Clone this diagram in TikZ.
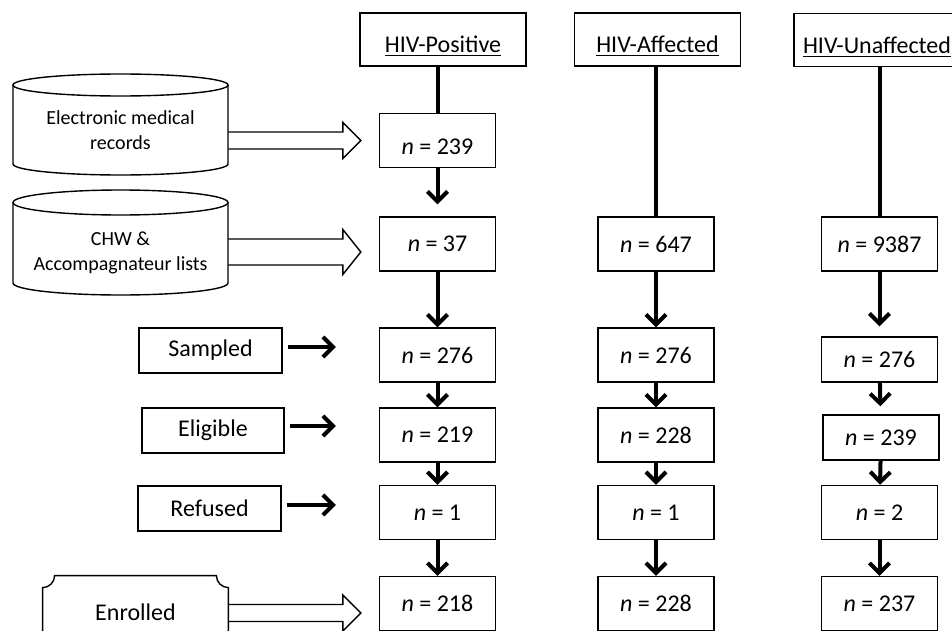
\documentclass[tikz,border=0pt]{standalone}
\usepackage{fontspec}
\setmainfont{Carlito}
\usetikzlibrary{arrows.meta,positioning,calc}

\begin{document}
\begin{tikzpicture}[
    x=0.5pt, y=0.5pt,
    every node/.style={font=\fontsize{12}{14}\selectfont},
    hdr/.style={draw=black, line width=0.7pt, minimum width=83pt,
                minimum height=26.5pt, inner sep=0pt},
    cnt/.style={draw=black, line width=0.7pt, minimum width=58pt,
                minimum height=27pt, inner sep=0pt},
    cntS/.style={cnt, minimum height=22.5pt},
    stage/.style={draw=black, line width=0.7pt, minimum width=71.5pt,
                  minimum height=22.5pt, inner sep=0pt},
    srctxt/.style={align=center, inner sep=0pt, minimum width=107.5pt,
                   font=\fontsize{10}{12.5}\selectfont},
    outline/.style={draw=black, line width=0.7pt, line join=miter},
    trunk/.style={line width=2pt, black},
    flow/.style={trunk, -{Straight Barb[length=5pt, width=10pt]}},
]

% ── column x-positions ──────────────────────────────────────
\def\xP{437.5}   % HIV-Positive
\def\xF{656}     % HIV-Affected
\def\xU{879.5}   % HIV-Unaffected

\useasboundingbox (0,0) rectangle (952,-631);
\clip (0,0) rectangle (952,-631);

% ════ HEADERS ════════════════════════════════════════════════
\node[hdr] (hpos) at (443,-39.5)
    {\raisebox{-3.5pt}[\height][\depth]{\underline{HIV-Positive}}};
\node[hdr] (haff) at (657.5,-39.5)
    {\raisebox{-3.5pt}[\height][\depth]{\underline{HIV-Affected}}};
\node[hdr] (hun)  at (877,-40)
    {\raisebox{-3.5pt}[\height][\depth]{\underline{HIV-Unaffected}}};

% ════ COUNTS ═════════════════════════════════════════════════
% HIV-Positive
\node[cnt] (p1) at (\xP,-140.5)
    {\raisebox{-3pt}[\height][\depth]{\textit{n} = 239}};
\node[cnt] (p2) at (\xP,-244)   {\textit{n} = 37};
\node[cnt] (p3) at (\xP,-355)   {\textit{n} = 276};
\node[cnt] (p4) at (\xP,-435)   {\textit{n} = 219};
\node[cnt] (p5) at (\xP,-512.5) {\textit{n} = 1};
\node[cnt] (p6) at (\xP,-603.5) {\textit{n} = 218};

% HIV-Affected
\node[cnt] (a2) at (\xF,-244)   {\textit{n} = 647};
\node[cnt] (a3) at (\xF,-355)   {\textit{n} = 276};
\node[cnt] (a4) at (\xF,-435)   {\textit{n} = 228};
\node[cnt] (a5) at (\xF,-512.5) {\textit{n} = 1};
\node[cnt] (a6) at (\xF,-603.5) {\textit{n} = 228};

% HIV-Unaffected
\node[cnt]  (u2) at (\xU,-244)   {\textit{n} = 9387};
\node[cntS] (u3) at (\xU,-359.5) {\textit{n} = 276};
\node[cntS] (u4) at (881,-437.5) {\textit{n} = 239};
\node[cnt]  (u5) at (\xU,-512.5) {\textit{n} = 2};
\node[cnt]  (u6) at (\xU,-603.5) {\textit{n} = 237};

% ════ STAGES ═════════════════════════════════════════════════
\node[stage] (samp) at (210.5,-350.5) {Sampled};
\node[stage, minimum width=71pt] (elig) at (213,-430.5) {Eligible};
\node[stage] (refu) at (209.5,-508.5) {Refused};

% ════ SOURCES ════════════════════════════════════════════════
\node[srctxt] (emr) at (120.5,-130.5) {Electronic medical\\records};
\node[srctxt] (chw) at (120.5,-252.5) {CHW \&\\Accompagnateur lists};
\node[inner sep=0pt, minimum width=92.5pt, minimum height=36pt]
    (enr) at (135.5,-612) {Enrolled};

% cylinder 1
\draw[outline] (120.5,-85) ellipse[x radius=107.5, y radius=11];
\draw[outline] (13,-85) -- (13,-164)
    arc[start angle=180, end angle=360, x radius=107.5, y radius=11]
    -- (228,-85);
% cylinder 2
\draw[outline] (120.5,-202.5) ellipse[x radius=107.5, y radius=12.5];
\draw[outline] (13,-202.5) -- (13,-283)
    arc[start angle=180, end angle=360, x radius=107.5, y radius=12]
    -- (228,-202.5);
% plaque
\draw[outline] ($(enr.north west)+(12,0)$) -- ($(enr.north east)+(-12,0)$)
    arc[start angle=180, end angle=270, radius=12]
    -- ($(enr.south east)+(0,12)$)
    arc[start angle=90, end angle=180, radius=12]
    -- ($(enr.south west)+(12,0)$)
    arc[start angle=0, end angle=90, radius=12]
    -- ($(enr.north west)+(0,-12)$)
    arc[start angle=270, end angle=360, radius=12] -- cycle;

% ── hollow arrows ────────────────────────────────────────────
\coordinate (tipE) at ($(p1.west)+(-18,0)$);
\coordinate (tipC) at ($(p2.west)+(-18,-8)$);
\coordinate (tipN) at ($(p6.west)+(-18,-9.5)$);

\draw[outline] ($(emr.east |- tipE)+(0,8.5)$) -- ($(tipE)+(-18,8.5)$)
    -- ($(tipE)+(-18,18)$) -- (tipE) -- ($(tipE)+(-18,-18)$)
    -- ($(tipE)+(-18,-8.5)$) -- ($(emr.east |- tipE)+(0,-8.5)$);
\draw[outline] ($(chw.east |- tipC)+(0,13)$) -- ($(tipC)+(-18,13)$)
    -- ($(tipC)+(-18,22.5)$) -- (tipC) -- ($(tipC)+(-18,-22.5)$)
    -- ($(tipC)+(-18,-13)$) -- ($(chw.east |- tipC)+(0,-13)$);
\draw[outline] ($(enr.east |- tipN)+(0,8.5)$) -- ($(tipN)+(-18,8.5)$)
    -- ($(tipN)+(-18,18)$) -- (tipN) -- ($(tipN)+(-18,-18)$)
    -- ($(tipN)+(-18,-8.5)$) -- ($(enr.east |- tipN)+(0,-8.5)$);

% ── stage arrows ─────────────────────────────────────────────
\draw[flow] ($(samp.east)+(5,3.5)$) -- ($(samp.east -| p3.west)+(-43,3.5)$);
\draw[flow] ($(elig.east)+(5,4.5)$) -- ($(elig.east -| p4.west)+(-43,4.5)$);
\draw[flow] ($(refu.east)+(5,3.5)$) -- ($(refu.east -| p5.west)+(-43,3.5)$);

% ── column flows ─────────────────────────────────────────────
\draw[trunk] (p1.north |- hpos.south) -- (p1.north);
\draw[flow, shorten >=6pt] (p1) -- (p2);
\draw[flow] (p2) -- (p3);
\draw[flow] (p3) -- (p4);
\draw[flow] (p4) -- (p5);
\draw[flow] (p5) -- (p6);

\draw[trunk] (a2.north |- haff.south) -- (a2.north);
\draw[flow] (a2) -- (a3);
\draw[flow] (a3) -- (a4);
\draw[flow] (a4) -- (a5);
\draw[flow] (a5) -- (a6);

\draw[trunk] (u2.north |- hun.south) -- (u2.north);
\draw[flow, shorten >=5pt] (u2) -- (u3);
\draw[flow, shorten >=4pt] (u3) -- (u4);
\draw[flow] (u4) -- (u5);
\draw[flow] (u5) -- (u6);

\end{tikzpicture}
\end{document}
